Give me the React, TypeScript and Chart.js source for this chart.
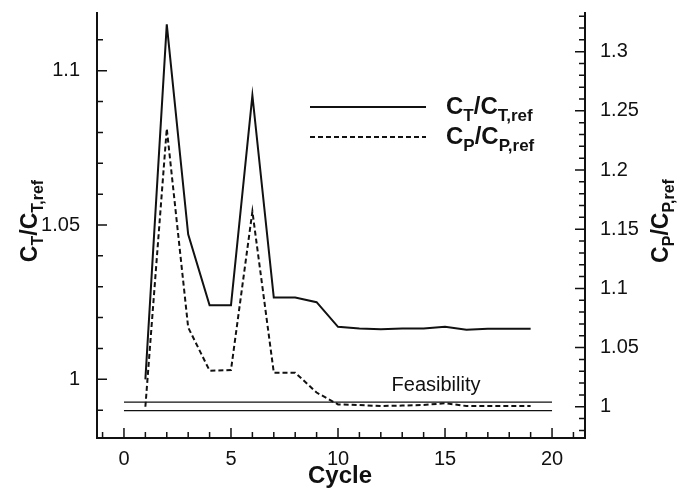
import React, { useEffect, useRef } from "react";
import { Chart, registerables } from "chart.js";

Chart.register(...registerables);

// ---- data ----
const cycles = [1, 2, 3, 4, 5, 6, 7, 8, 9, 10, 11, 12, 13, 14, 15, 16, 17, 18, 19];
const thrustRatio = [1.0, 1.115, 1.047, 1.024, 1.024, 1.092, 1.0265, 1.0265, 1.025, 1.017, 1.0165, 1.0162, 1.0165, 1.0165, 1.017, 1.0161, 1.0164, 1.0164, 1.0164];
const powerRatio = [1.0, 1.235, 1.067, 1.0305, 1.031, 1.165, 1.0288, 1.0288, 1.012, 1.002, 1.0015, 1.0006, 1.001, 1.0015, 1.003, 1.0006, 1.0006, 1.0006, 1.0006];
const feasibilityCycles = [0, 20];
const feasibilityUpper = [0.9926, 0.9926];
const feasibilityLower = [0.9899, 0.9899];

const xMajorTicks = [0, 5, 10, 15, 20];
const leftMajorTicks = [1, 1.05, 1.1];
const rightMajorTicks = [1, 1.05, 1.1, 1.15, 1.2, 1.25, 1.3];
const xMinorRange = [-1, 21];
const leftMinorRange = [0.99, 1.11];
const rightMinorRange = [0.98, 1.33];

const FONT = '"Liberation Sans", Arial, Helvetica, sans-serif';
const INK = "#111";

type Part = [string, boolean];

function drawParts(ctx: CanvasRenderingContext2D, parts: Part[], x: number, y: number, main: number, sub: number, shift: number, center: boolean) {
  const fMain = `bold ${main}px ${FONT}`;
  const fSub = `bold ${sub}px ${FONT}`;
  let total = 0;
  for (const [t, s] of parts) {
    ctx.font = s ? fSub : fMain;
    total += ctx.measureText(t).width;
  }
  let cx = center ? x - total / 2 : x;
  ctx.textAlign = "left";
  ctx.textBaseline = "alphabetic";
  for (const [t, s] of parts) {
    ctx.font = s ? fSub : fMain;
    ctx.fillText(t, cx, y + (s ? shift : 0));
    cx += ctx.measureText(t).width;
  }
}

const decorPlugin = {
  id: "decor",
  afterDraw(chart: any) {
    const ctx: CanvasRenderingContext2D = chart.ctx;
    const { left, right, top, bottom } = chart.chartArea;
    const xs = chart.scales.x;
    const yl = chart.scales.yL;
    const yr = chart.scales.yR;
    ctx.save();
    ctx.strokeStyle = INK;
    ctx.fillStyle = INK;

    // axis lines
    ctx.lineWidth = 2;
    ctx.beginPath();
    ctx.moveTo(left, top);
    ctx.lineTo(left, bottom);
    ctx.lineTo(right, bottom);
    ctx.lineTo(right, top);
    ctx.stroke();

    // ticks (inward)
    ctx.lineWidth = 1.5;
    ctx.beginPath();
    for (let v = xMinorRange[0]; v <= xMinorRange[1]; v++) {
      const px = xs.getPixelForValue(v);
      const len = xMajorTicks.includes(v) ? 10 : 6;
      ctx.moveTo(px, bottom);
      ctx.lineTo(px, bottom - len);
    }
    for (let i = Math.round(leftMinorRange[0] * 100); i <= Math.round(leftMinorRange[1] * 100); i++) {
      const v = i / 100;
      const py = yl.getPixelForValue(v);
      const len = i % 5 === 0 ? 10 : 6;
      ctx.moveTo(left, py);
      ctx.lineTo(left + len, py);
    }
    for (let i = Math.round(rightMinorRange[0] * 100); i <= Math.round(rightMinorRange[1] * 100); i++) {
      const v = i / 100;
      const py = yr.getPixelForValue(v);
      const len = i % 5 === 0 ? 10 : 6;
      ctx.moveTo(right, py);
      ctx.lineTo(right - len, py);
    }
    ctx.stroke();

    // x title
    ctx.font = `bold 24px ${FONT}`;
    ctx.textAlign = "center";
    ctx.textBaseline = "alphabetic";
    ctx.fillText("Cycle", 340, 483);

    // left title
    ctx.save();
    ctx.translate(37, 221);
    ctx.rotate(-Math.PI / 2);
    drawParts(ctx, [["C", false], ["T", true], ["/C", false], ["T,ref", true]], 0, 0, 23, 16, 6, true);
    ctx.restore();

    // right title
    ctx.save();
    ctx.translate(668, 221);
    ctx.rotate(-Math.PI / 2);
    drawParts(ctx, [["C", false], ["P", true], ["/C", false], ["P,ref", true]], 0, 0, 23, 16, 6, true);
    ctx.restore();

    // legend
    ctx.lineWidth = 2;
    ctx.setLineDash([]);
    ctx.beginPath();
    ctx.moveTo(310, 107);
    ctx.lineTo(426, 107);
    ctx.stroke();
    ctx.setLineDash([5, 3]);
    ctx.beginPath();
    ctx.moveTo(310, 137);
    ctx.lineTo(426, 137);
    ctx.stroke();
    ctx.setLineDash([]);
    drawParts(ctx, [["C", false], ["T", true], ["/C", false], ["T,ref", true]], 446, 114, 24, 17, 7, false);
    drawParts(ctx, [["C", false], ["P", true], ["/C", false], ["P,ref", true]], 446, 144, 24, 17, 7, false);

    // feasibility label
    ctx.font = `20px ${FONT}`;
    ctx.textAlign = "center";
    ctx.fillText("Feasibility", 436, 391);

    ctx.restore();
  },
};

function zeroPad(scale: any) {
  scale.paddingTop = 0;
  scale.paddingBottom = 0;
  scale.paddingLeft = 0;
  scale.paddingRight = 0;
}

export default function App() {
  const ref = useRef<HTMLCanvasElement | null>(null);
  useEffect(() => {
    if (!ref.current) return;
    const pts = (ys: number[], xsArr: number[]) => xsArr.map((x, i) => ({ x, y: ys[i] }));
    const tickFont = { family: FONT, size: 20 };
    const chart = new Chart(ref.current, {
      type: "line",
      data: {
        datasets: [
          { label: "CT", data: pts(thrustRatio, cycles), yAxisID: "yL", borderColor: INK, borderWidth: 2, pointRadius: 0, tension: 0, fill: false },
          { label: "CP", data: pts(powerRatio, cycles), yAxisID: "yR", borderColor: INK, borderWidth: 2, borderDash: [5, 3], pointRadius: 0, tension: 0, fill: false },
          { label: "FeasU", data: pts(feasibilityUpper, feasibilityCycles), yAxisID: "yL", borderColor: INK, borderWidth: 1.2, pointRadius: 0, fill: false },
          { label: "FeasL", data: pts(feasibilityLower, feasibilityCycles), yAxisID: "yL", borderColor: INK, borderWidth: 1.2, pointRadius: 0, fill: false },
        ],
      },
      options: {
        responsive: false,
        animation: false,
        events: [],
        layout: { padding: { top: 12, left: 0, right: 0, bottom: 0 } },
        plugins: { legend: { display: false }, tooltip: { enabled: false } },
        scales: {
          x: {
            type: "linear",
            position: "bottom",
            min: -1.26,
            max: 21.54,
            grid: { display: false },
            border: { display: false },
            ticks: { font: tickFont, color: INK, padding: 1, maxRotation: 0, autoSkip: false, callback: (v: any) => String(v) },
            afterBuildTicks: (s: any) => { s.ticks = xMajorTicks.map((value) => ({ value })); },
            afterFit: (s: any) => { s.height = 52; zeroPad(s); },
          },
          yL: {
            type: "linear",
            position: "left",
            min: 0.981,
            max: 1.119,
            grid: { display: false },
            border: { display: false },
            ticks: { font: tickFont, color: INK, padding: 9, autoSkip: false, callback: (v: any) => String(v) },
            afterBuildTicks: (s: any) => { s.ticks = leftMajorTicks.map((value) => ({ value })); },
            afterFit: (s: any) => { s.width = 97; zeroPad(s); },
          },
          yR: {
            type: "linear",
            position: "right",
            min: 0.9736,
            max: 1.3335,
            grid: { display: false },
            border: { display: false },
            ticks: { font: tickFont, color: INK, padding: 7, autoSkip: false, callback: (v: any) => String(v) },
            afterBuildTicks: (s: any) => { s.ticks = rightMajorTicks.map((value) => ({ value })); },
            afterFit: (s: any) => { s.width = 95; zeroPad(s); },
          },
        },
      },
      plugins: [decorPlugin],
    } as any);
    return () => chart.destroy();
  }, []);
  return (
    <div style={{ position: "fixed", left: 0, top: 0, width: 680, height: 490, background: "#fff" }}>
      <canvas ref={ref} width={680} height={490} style={{ display: "block" }} />
    </div>
  );
}
